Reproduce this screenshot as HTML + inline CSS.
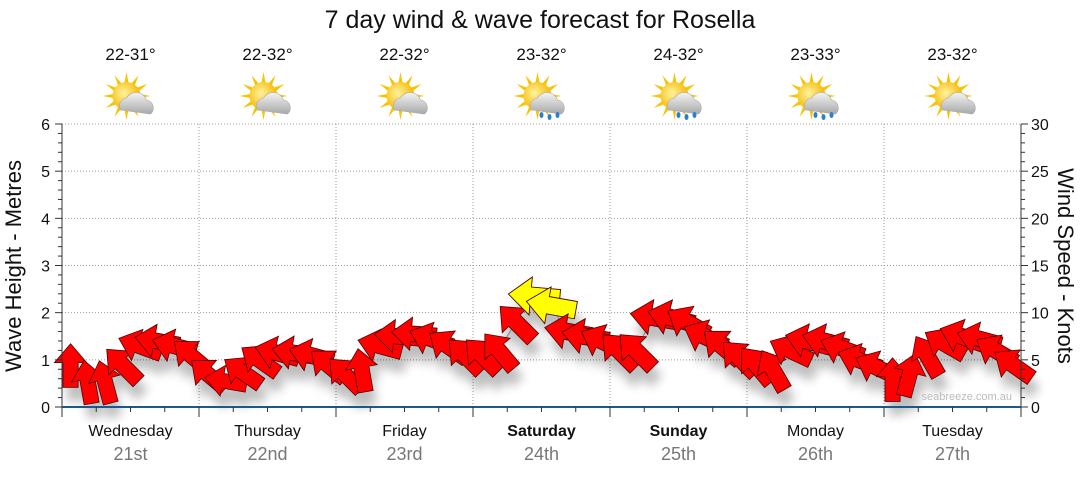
<!DOCTYPE html>
<html><head><meta charset="utf-8"><style>
body{margin:0;background:#fff;width:1080px;height:475px;overflow:hidden;font-family:"Liberation Sans","DejaVu Sans",sans-serif}
</style></head><body>
<svg id="c" width="1080" height="475" xmlns="http://www.w3.org/2000/svg" font-family="Liberation Sans, DejaVu Sans, sans-serif">
<defs>
<filter id="sh" x="-50%" y="-50%" width="200%" height="200%"><feGaussianBlur stdDeviation="5"/></filter>
<radialGradient id="sun" cx="40%" cy="40%" r="60%"><stop offset="0" stop-color="#fff3a0"/><stop offset="1" stop-color="#f5b800"/></radialGradient>
<linearGradient id="cloud" x1="0" y1="0" x2="0" y2="1"><stop offset="0" stop-color="#f4f4f4"/><stop offset="1" stop-color="#a8a8a8"/></linearGradient>
</defs>
<text x="540" y="28" font-size="25" text-anchor="middle" fill="#111">7 day wind &amp; wave forecast for Rosella</text>
<g id="grid"></g>
<g id="icons"></g>
<g id="shadows" filter="url(#sh)" opacity="0.25"></g>
<g id="marks"></g>
<g id="axes"></g>
<text x="1012" y="400" font-size="11" fill="#bbb" text-anchor="end">seabreeze.com.au</text>
<text transform="translate(21,266) rotate(-90)" font-size="22" text-anchor="middle" fill="#111">Wave Height - Metres</text>
<text transform="translate(1058,266) rotate(90)" font-size="22" text-anchor="middle" fill="#111">Wind Speed - Knots</text>
</svg>
<script>
const days=["Wednesday","Thursday","Friday","Saturday","Sunday","Monday","Tuesday"];
const dates=["21st","22nd","23rd","24th","25th","26th","27th"];
const temps=["22-31°","22-32°","22-32°","23-32°","24-32°","23-33°","23-32°"];
const rain=[0,0,0,1,1,1,0];
const bold=[0,0,0,1,1,0,0];
const waveTicks=[0,1,2,3,4,5,6];
const windTicks=[0,5,10,15,20,25,30];
const waves=[0.9,0.55,0.55,0.9,1.3,1.4,1.3,1.1, 0.7,0.55,0.75,1.0,1.15,1.15,1.1,0.9, 0.7,0.8,1.3,1.5,1.55,1.45,1.3,1.1, 1.1,1.2,1.8,2.35,2.15,1.6,1.5,1.4, 1.2,1.2,1.9,1.9,1.8,1.5,1.3,1.05, 0.9,0.8,1.2,1.4,1.4,1.25,1.0,0.85, 0.6,0.7,1.1,1.35,1.5,1.45,1.2,0.9];
const dirs=[-90,-100,-105,-135,-160,-170,-165,-140, -140,-170,-145,-145,-165,-170,-165,-140, -135,-100,-165,-175,-175,-160,-145,-135, -135,-130,-135,-175,-170,-170,-170,-155, -135,-135,-170,-165,-150,-155,-140,-135, -130,-120,-155,-165,-165,-160,-160,-155, -90,-75,-120,-150,-160,-165,-150,-145];
const speeds=[7,7,7,8,8,8,8,7, 7,6,7,7,8,8,8,7, 7,7,8,8,8,8,8,8, 8,8,9,13,12,10,10,9, 9,9,10,10,9,9,9,8, 8,8,8,9,9,8,8,8, 7,7,8,8,9,8,8,8];

const NS="http://www.w3.org/2000/svg";
const X0=62,X1=1021,Y0=407,Y1=124;
const dayW=(X1-X0)/7;
const xT=t=>X0+t*dayW/8+dayW/16;
const yW=v=>Y0-v/6*(Y0-Y1);
const yK=v=>Y0-v/30*(Y0-Y1);
function el(tag,attrs,parent){const e=document.createElementNS(NS,tag);for(const k in attrs)e.setAttribute(k,attrs[k]);document.getElementById(parent).appendChild(e);return e;}

waveTicks.forEach(v=>{if(v>0){const g=el('line',{x1:X0,x2:X1,y1:yW(v),y2:yW(v),stroke:'#999','stroke-dasharray':'1,2'},'grid');

}
const t=el('text',{x:X0-12,y:yW(v)+6,'font-size':16,'text-anchor':'end',fill:'#111'},'axes');t.textContent=v;

});
for(let i=0;i<=30;i++){const y=Y0-i*(Y0-Y1)/30;el('line',{x1:X0,x2:X0-(i%5?4:7),y1:y,y2:y,stroke:'#333'},'axes');el('line',{x1:X1,x2:X1+(i%5?4:7),y1:y,y2:y,stroke:'#333'},'axes');}
windTicks.forEach(v=>{const t=el('text',{x:X1+10,y:yK(v)+6,'font-size':16,fill:'#111'},'axes');t.textContent=v;

});
el('line',{x1:X0,x2:X0,y1:Y1,y2:Y0,stroke:'#333'},'axes');
el('line',{x1:X1,x2:X1,y1:Y1,y2:Y0,stroke:'#333'},'axes');
el('line',{x1:X0,x2:X1,y1:Y0,y2:Y0,stroke:'#1a5a8a','stroke-width':2},'axes');
for(let i=0;i<=28;i++){const x=X0+i*dayW/4;el('line',{x1:x,x2:x,y1:Y0,y2:Y0+(i%4?5:10),stroke:'#333'},'axes');}
days.forEach((d,i)=>{const cx=X0+(i+0.5)*dayW;
if(i>0){const g=el('line',{x1:X0+i*dayW,x2:X0+i*dayW,y1:Y1,y2:Y0,stroke:'#999','stroke-dasharray':'1,2'},'grid');

}
const a=el('text',{x:cx,y:436,'font-size':16,'text-anchor':'middle',fill:'#111','font-weight':bold[i]?'bold':'normal'},'axes');a.textContent=d;


const b=el('text',{x:cx,y:460,'font-size':18,'text-anchor':'middle',fill:'#777'},'axes');b.textContent=dates[i];


const t=el('text',{x:cx,y:60,'font-size':17,'text-anchor':'middle',fill:'#111'},'icons');t.textContent=temps[i];


const g=el('g',{transform:`translate(${cx-4},96)`},'icons');


let s='';for(let k=0;k<12;k++){const an=k*30*Math.PI/180;const r1=24,w=0.16;s+=`<polygon points="${Math.cos(an)*r1},${Math.sin(an)*r1} ${Math.cos(an+w)*13},${Math.sin(an+w)*13} ${Math.cos(an-w)*13},${Math.sin(an-w)*13}" fill="#f7c400"/>`;}
s+=`<circle r="14" fill="url(#sun)"/><path d="M-6,14 a8,8 0 0 1 6,-12 a11,11 0 0 1 20,2 a8,8 0 0 1 4,14 z" fill="url(#cloud)" stroke="#aaa" stroke-width="0.6"/>`;
if(rain[i])s+=`<g fill="#2a7fd0"><ellipse cx="4" cy="19" rx="2" ry="3"/><ellipse cx="12" cy="21" rx="2" ry="3"/><ellipse cx="20" cy="19" rx="2" ry="3"/></g>`;
g.innerHTML=s;});

el('polyline',{points:waves.map((v,i)=>xT(i)+','+yW(v)).join(' '),fill:'none',stroke:'#888','stroke-width':1},'marks');
const arrow="-24,-8 2,-8 2,-17 22,0 2,17 2,8 -24,8";
waves.forEach((v,i)=>{const x=xT(i),y=yW(v);
const sc=0.75+speeds[i]/35;
const s=el('polygon',{points:arrow,transform:`translate(${x+4},${y+14}) rotate(${dirs[i]}) scale(${sc})`,fill:'#000'},'shadows');


const p=el('polygon',{points:arrow,transform:`translate(${x},${y}) rotate(${dirs[i]}) scale(${sc})`,fill:speeds[i]>=12?'#ffff00':'#ff0000',stroke:'#4a0000','stroke-width':0.8},'marks');

});
</script>
</body></html>
